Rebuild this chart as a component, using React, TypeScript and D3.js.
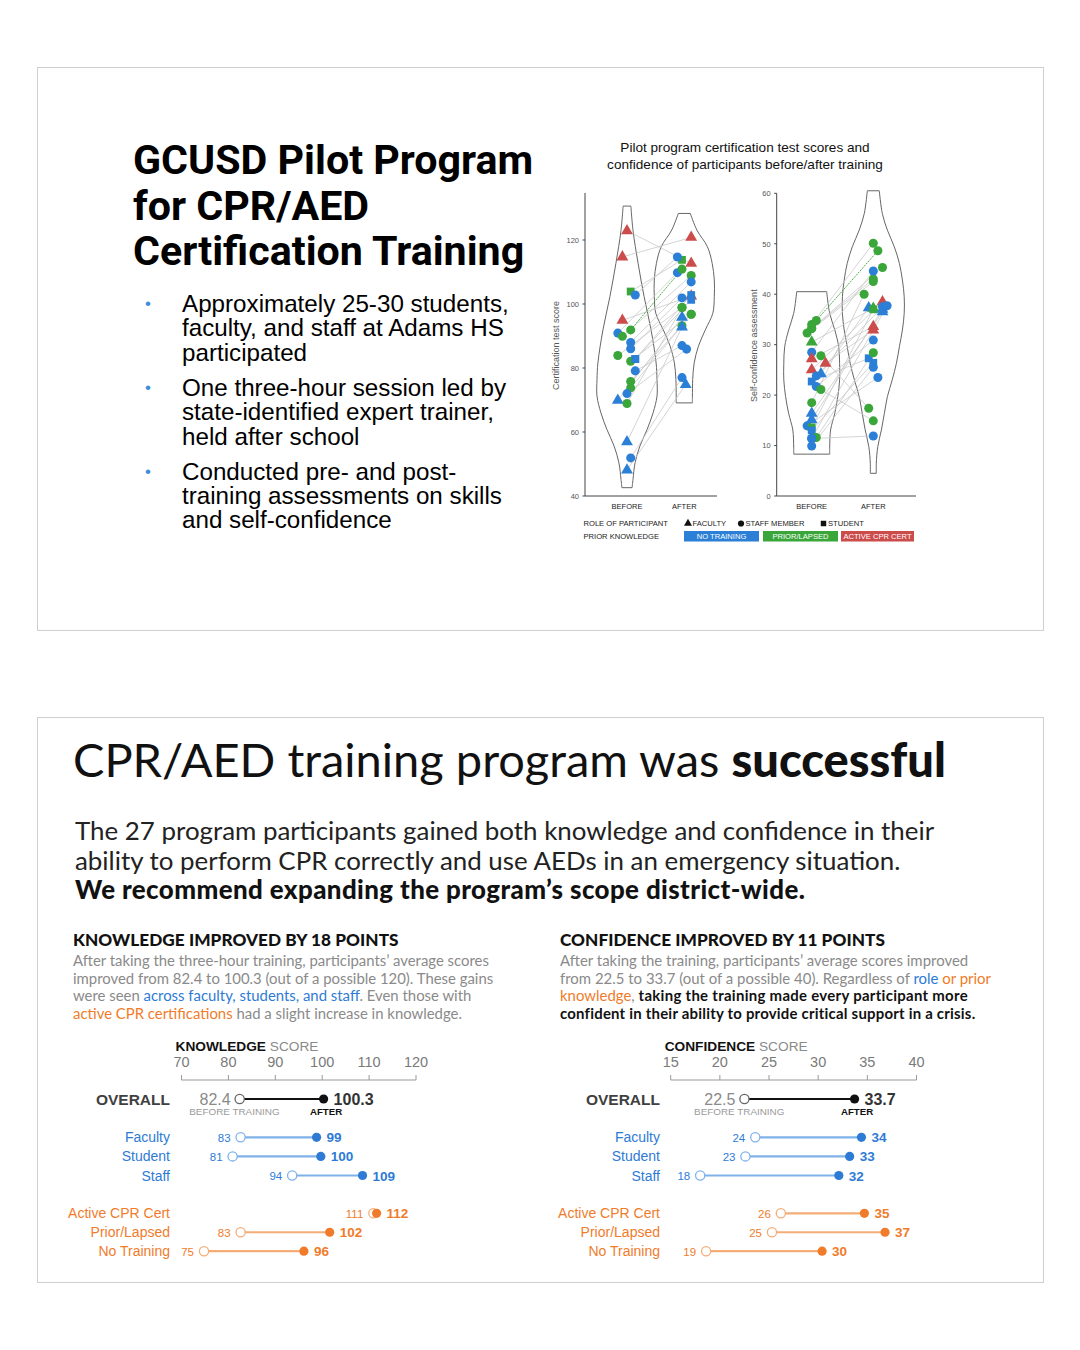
import React from "react";
import * as d3 from "d3";

// ---------------- DATA: top paired violin charts ----------------
const stages = ["BEFORE", "AFTER"];
const knowledgeTicks = [40, 60, 80, 100, 120];
const confidenceTicks = [0, 10, 20, 30, 40, 50, 60];

// [role, prior, before, after]; role F=faculty, S=staff member, T=student; prior N=no training, P=prior/lapsed, A=active CPR cert
const knowledgeParticipants: [string, string, number, number][] = [
  ["F", "A", 122.9, 112.7],
  ["F", "A", 114.7, 120.8],
  ["F", "A", 94.9, 102.5],
  ["T", "P", 103.9, 113.8],
  ["S", "N", 102.8, 114.7],
  ["S", "N", 90.9, 109.8],
  ["S", "P", 91.9, 110.9],
  ["S", "P", 89.9, 108.9],
  ["S", "N", 88, 106.9],
  ["S", "N", 86, 101.9],
  ["S", "P", 83.9, 98.9],
  ["T", "N", 82.8, 102.8],
  ["S", "P", 82.1, 96.8],
  ["S", "N", 79.1, 87],
  ["S", "P", 75.8, 93.2],
  ["S", "P", 73.8, 96.8],
  ["S", "N", 72, 85.9],
  ["F", "N", 69.9, 95.8],
  ["S", "P", 68.9, 98.9],
  ["F", "N", 56.9, 92.8],
  ["S", "N", 51.9, 77],
  ["F", "N", 48.1, 74.8],
  ["T", "N", 82.8, 101.3],
];
// jitter lanes [before, after]
const knowledgeJitter: [number, number][] = [
  [0, 1.5], [-1, 1.5], [-1, 1.5], [0.8, -0.5], [1.8, -1.5], [-2, -1.5], [0.8, -0.5], [-1, 1.5],
  [0.8, 1.5], [0.8, -0.5], [-2, -0.5], [1.8, 1.5], [0.8, 1.5], [1.8, -0.5], [0.8, -0.5], [0.8, 1.5],
  [0, 0.5], [-2, -0.5], [0, -0.5], [0, -0.5], [0.8, -0.5], [0, 0.3], [1.8, 1.5],
];
const knowledgeHighlight = 6;

const confidenceParticipants: [string, string, number, number][] = [
  ["S", "P", 34.8, 48.6],
  ["S", "P", 34, 50.1],
  ["S", "P", 33.2, 45.3],
  ["S", "P", 32.3, 42.5],
  ["S", "P", 33.2, 43],
  ["F", "P", 30.5, 37.2],
  ["S", "N", 28.5, 44.6],
  ["S", "P", 27.8, 17.4],
  ["F", "A", 27.2, 33.6],
  ["F", "A", 26.3, 32.9],
  ["F", "A", 25, 38.5],
  ["F", "N", 24.2, 37.3],
  ["S", "N", 23.8, 37.5],
  ["T", "N", 22.7, 27.3],
  ["S", "N", 21.7, 30.9],
  ["S", "P", 21.1, 14.9],
  ["S", "P", 18.5, 40],
  ["F", "N", 16.4, 36.5],
  ["F", "N", 15.1, 37],
  ["S", "N", 13.9, 23.5],
  ["T", "P", 13.6, 37],
  ["T", "N", 13, 26.4],
  ["S", "P", 11.6, 28.4],
  ["S", "N", 11.4, 11.9],
  ["S", "N", 9.9, 25.5],
  ["S", "N", 11.4, 37.7],
];
const confidenceJitter: [number, number][] = [
  [1, 1], [0, 0], [0, 2], [-1, 0], [0, 0], [0, 0], [0, 0], [2, -1], [0, 0], [3, 0], [0, 2], [2, -1], [1, 2],
  [0, -1], [1, 0], [2, 0], [0, -2], [0, 2], [0, 2], [-1, 1], [0, 0], [0, 0], [1, 0], [0, 0], [0, 0], [0, 3],
];
const confidenceHighlight = 0;

// violin density profiles [value, relative density]
const knowledgeBeforeViolin = [[42.6, 0.17], [45.2, 0.2], [50.4, 0.27], [55.6, 0.43], [60.8, 0.67], [66, 0.87], [71.2, 1], [76.4, 1], [81.6, 0.97], [92, 0.8], [102.3, 0.57], [112.7, 0.37], [123, 0.2], [130.6, 0.13]];
const knowledgeAfterViolin = [[69.1, 0.27], [71.2, 0.27], [76.4, 0.28], [81.6, 0.33], [86.8, 0.47], [91.9, 0.7], [97.1, 0.95], [102.3, 1], [107.5, 1], [112.7, 0.93], [117.9, 0.77], [123.1, 0.42], [128.3, 0.2]];
const confidenceBeforeViolin = [[8.3, 0.6], [9.7, 0.6], [13.1, 0.63], [16.4, 0.77], [19.7, 0.87], [23, 0.93], [26.3, 0.93], [29.6, 0.9], [32.9, 0.77], [36.2, 0.6], [40.5, 0.5]];
const confidenceAfterViolin = [[4.5, 0.1], [6.5, 0.1], [9.8, 0.15], [13.1, 0.27], [16.4, 0.37], [19.7, 0.47], [23, 0.63], [26.3, 0.77], [29.6, 0.87], [32.9, 0.97], [36.2, 1.03], [39.5, 1.03], [42.8, 0.97], [46.1, 0.87], [49.4, 0.7], [52.7, 0.47], [56, 0.3], [60.5, 0.2]];

const legendRoles = [["F", "FACULTY"], ["S", "STAFF MEMBER"], ["T", "STUDENT"]];
const legendPriors = [["N", "NO TRAINING"], ["P", "PRIOR/LAPSED"], ["A", "ACTIVE CPR CERT"]];

// ---------------- DATA: bottom dumbbell charts ----------------
const roleNames = ["Faculty", "Student", "Staff"];
const priorNames = ["Active CPR Cert", "Prior/Lapsed", "No Training"];
const knowledgeAxisTicks = [70, 80, 90, 100, 110, 120];
const confidenceAxisTicks = [15, 20, 25, 30, 35, 40];
const knowledgeOverall = [82.4, 100.3];
const confidenceOverall = [22.5, 33.7];
const knowledgeRoleBefore = [82.6, 80.9, 93.6];
const knowledgeRoleAfter = [98.8, 99.7, 108.6];
const knowledgePriorBefore = [110.9, 82.6, 74.8];
const knowledgePriorAfter = [111.6, 101.6, 96.1];
const confidenceRoleBefore = [23.6, 22.6, 18.0];
const confidenceRoleAfter = [34.4, 33.2, 32.1];
const confidencePriorBefore = [26.2, 25.3, 18.6];
const confidencePriorAfter = [34.7, 36.8, 30.4];

// ---------------- STYLE ----------------
const PRIOR_COLOR: Record<string, string> = { N: "#2b7fd6", P: "#3aa63a", A: "#cc4b4b" };
const ROLE_SYMBOL: Record<string, any> = { F: d3.symbolTriangle, S: d3.symbolCircle, T: d3.symbolSquare };
const BLUE = "#2e7bd6";
const BLUE_LIGHT = "#7fb2ea";
const ORANGE = "#f07c2b";
const ORANGE_LIGHT = "#f5ad78";
const ARIAL = "'Liberation Sans', Arial, sans-serif";
const LATO = "Lato, 'Noto Sans', sans-serif";

function symbolPath(role: string, size = 64) {
  const s = role === "F" ? size * 0.95 : role === "T" ? size * 0.95 : size;
  return d3.symbol().type(ROLE_SYMBOL[role]).size(s)() as string;
}

function PairedChart(props: {
  data: [string, string, number, number][];
  jitter: [number, number][];
  highlight: number;
  y: d3.ScaleLinear<number, number>;
  axisX: number;
  axisTop: number;
  axisRight: number;
  band: [number, number];
  ticks: number[];
  violins: number[][][];
  yLabel: string;
  yLabelX: number;
}) {
  const { data, jitter, highlight, y, axisX, axisTop, axisRight, band, ticks, violins, yLabel, yLabelX } = props;
  const x = d3.scalePoint<string>().domain(stages).range(band);
  const j = d3.scaleLinear().domain([-1, 1]).range([-4.6, 4.6]);
  const w = d3.scaleLinear().domain([0, 1]).range([0, 30]);
  const bottom = y.range()[0];
  const violinPath = (cx: number, prof: number[][]) =>
    d3
      .area<number[]>()
      .y((d) => y(d[0]))
      .x0((d) => cx - w(d[1]))
      .x1((d) => cx + w(d[1]))
      .curve(d3.curveCatmullRom)(prof) as string;
  const bx = (i: number) => (x("BEFORE") as number) + j(jitter[i][0]);
  const ax = (i: number) => (x("AFTER") as number) + j(jitter[i][1]);
  return (
    <g>
      {stages.map((s, i) => (
        <path key={s} d={violinPath(x(s) as number, violins[i])} fill="none" stroke="#666" strokeWidth={1} />
      ))}
      {data.map((d, i) =>
        i === highlight ? null : (
          <line key={"l" + i} x1={bx(i)} y1={y(d[2])} x2={ax(i)} y2={y(d[3])} stroke="#c9c9c9" strokeWidth={0.8} />
        )
      )}
      <line x1={bx(highlight)} y1={y(data[highlight][2])} x2={ax(highlight)} y2={y(data[highlight][3])} stroke={PRIOR_COLOR.P} strokeWidth={0.9} strokeDasharray="2,1" />
      {data.map((d, i) => (
        <path key={"b" + i} d={symbolPath(d[0])} transform={`translate(${bx(i)},${y(d[2])})`} fill={PRIOR_COLOR[d[1]]} />
      ))}
      {data.map((d, i) => (
        <path key={"a" + i} d={symbolPath(d[0])} transform={`translate(${ax(i)},${y(d[3])})`} fill={PRIOR_COLOR[d[1]]} />
      ))}
      <line x1={axisX} y1={axisTop} x2={axisX} y2={bottom} stroke="#444" strokeWidth={1} />
      <line x1={axisX} y1={bottom} x2={axisRight} y2={bottom} stroke="#444" strokeWidth={1} />
      {ticks.map((t) => (
        <g key={t}>
          <line x1={axisX - 2.5} x2={axisX} y1={y(t)} y2={y(t)} stroke="#444" />
          <text x={axisX - 6} y={y(t) + 2.8} fontSize={7.5} textAnchor="end" fill="#555" fontFamily={ARIAL}>
            {t}
          </text>
        </g>
      ))}
      {stages.map((s) => (
        <text key={s} x={x(s)} y={bottom + 12.5} fontSize={7.5} textAnchor="middle" fill="#222" fontFamily={ARIAL}>
          {s}
        </text>
      ))}
      <text transform={`translate(${yLabelX},${(axisTop + bottom) / 2 + 1}) rotate(-90)`} fontSize={9} textAnchor="middle" fill="#555" fontFamily={ARIAL}>
        {yLabel}
      </text>
    </g>
  );
}

function DotPlot(props: {
  scale: d3.ScaleLinear<number, number>;
  ticks: number[];
  titleBold: string;
  overall: number[];
  roleBefore: number[];
  roleAfter: number[];
  priorBefore: number[];
  priorAfter: number[];
  labelRight: number;
}) {
  const { scale: x, ticks, titleBold, overall, roleBefore, roleAfter, priorBefore, priorAfter, labelRight } = props;
  const roleY = d3.scalePoint<string>().domain(roleNames).range([1137.3, 1175.5]);
  const priorY = d3.scalePoint<string>().domain(priorNames).range([1213.3, 1251.2]);
  const fmt0 = d3.format(".0f");
  const fmt1 = d3.format(".1f");
  const axisY = 1080;
  const oy = 1099;
  const row = (name: string, yy: number, b: number, a: number, col: string, light: string) => (
    <g key={name}>
      <text x={labelRight} y={yy + 5} fontSize={14} textAnchor="end" fill={col} fontFamily={ARIAL}>
        {name}
      </text>
      <line x1={x(b)} x2={x(a)} y1={yy} y2={yy} stroke={light} strokeWidth={2.2} />
      <circle cx={x(b)} cy={yy} r={4.6} fill="#fff" stroke={light} strokeWidth={1.3} />
      <circle cx={x(a)} cy={yy} r={4.6} fill={col} />
      <text x={x(b) - 10} y={yy + 4.3} fontSize={11.5} textAnchor="end" fill={col} fontFamily={ARIAL}>
        {fmt0(b)}
      </text>
      <text x={x(a) + 10} y={yy + 5} fontSize={13.5} fontWeight="bold" fill={col} fontFamily={ARIAL}>
        {fmt0(a)}
      </text>
    </g>
  );
  const [x0, x1] = x.range();
  return (
    <g>
      <text x={x0 - 6} y={1051} fontSize={13.7} fontFamily={ARIAL}>
        <tspan fontWeight="bold" fill="#111">{titleBold}</tspan>
        <tspan fill="#8a8a8a"> SCORE</tspan>
      </text>
      <line x1={x0} x2={x1} y1={axisY} y2={axisY} stroke="#999" strokeWidth={1} />
      {ticks.map((t) => (
        <g key={t}>
          <line x1={x(t)} x2={x(t)} y1={axisY - 5} y2={axisY} stroke="#999" />
          <text x={x(t)} y={1067} fontSize={14.5} textAnchor="middle" fill="#7a7a7a" fontFamily={ARIAL}>
            {t}
          </text>
        </g>
      ))}
      <text x={labelRight} y={oy + 6} fontSize={15.5} fontWeight="bold" textAnchor="end" fill="#404040" fontFamily={ARIAL}>
        OVERALL
      </text>
      <line x1={x(overall[0])} x2={x(overall[1])} y1={oy} y2={oy} stroke="#111" strokeWidth={2} />
      <circle cx={x(overall[0])} cy={oy} r={4.6} fill="#fff" stroke="#666" strokeWidth={1.3} />
      <circle cx={x(overall[1])} cy={oy} r={4.6} fill="#111" />
      <text x={x(overall[0]) - 9} y={oy + 6} fontSize={16} textAnchor="end" fill="#8a8a8a" fontFamily={ARIAL}>
        {fmt1(overall[0])}
      </text>
      <text x={x(overall[1]) + 10} y={oy + 6} fontSize={16} fontWeight="bold" fill="#333" fontFamily={ARIAL}>
        {fmt1(overall[1])}
      </text>
      <text x={x(overall[0]) + 40} y={1114.5} fontSize={9.9} textAnchor="end" fill="#9a9a9a" fontFamily={ARIAL}>
        BEFORE TRAINING
      </text>
      <text x={x(overall[1]) + 2.5} y={1114.5} fontSize={9.7} fontWeight="bold" textAnchor="middle" fill="#111" fontFamily={ARIAL}>
        AFTER
      </text>
      {roleNames.map((n, i) => row(n, roleY(n) as number, roleBefore[i], roleAfter[i], BLUE, BLUE_LIGHT))}
      {priorNames.map((n, i) => row(n, priorY(n) as number, priorBefore[i], priorAfter[i], ORANGE, ORANGE_LIGHT))}
    </g>
  );
}

export default function App() {
  const yK = d3.scaleLinear().domain([40, 120]).range([496, 240]);
  const yC = d3.scaleLinear().domain([0, 60]).range([496, 193.3]);
  const kx = d3.scaleLinear().domain([70, 120]).range([181.5, 416]);
  const cx = d3.scaleLinear().domain([15, 40]).range([670.7, 916.5]);

  const bullets = [
    ["Approximately 25-30 students,", "faculty, and staff at Adams HS", "participated"],
    ["One three-hour session led by", "state-identified expert trainer,", "held after school"],
    ["Conducted pre- and post-", "training assessments on skills", "and self-confidence"],
  ];
  const bulletTop = [312, 396, 479.5];
  const bodyGray = "#8a8a8a";

  return (
    <div style={{ position: "absolute", left: 0, top: 0 }}>
      <svg width={1080} height={1350} style={{ display: "block", background: "#fff" }}>
        <rect x={0} y={0} width={1080} height={1350} fill="#fff" />
        {/* ---------- top panel ---------- */}
        <rect x={37.5} y={67.5} width={1006} height={563} fill="#fff" stroke="#cfcfcf" strokeWidth={1} />
        {["GCUSD Pilot Program", "for CPR/AED", "Certification Training"].map((t, i) => (
          <text key={t} x={133} y={174 + i * 45.5} fontSize={41.2} fontWeight="bold" fill="#000" fontFamily="Roboto, sans-serif">
            {t}
          </text>
        ))}
        {bullets.map((lines, bi) => (
          <g key={bi}>
            <text x={145} y={bulletTop[bi] - 3} fontSize={17} fill="#3d8fd9" fontFamily={ARIAL}>
              •
            </text>
            {lines.map((l, li) => (
              <text key={li} x={182} y={bulletTop[bi] + li * 24.3} fontSize={24.2} fill="#000" fontFamily={ARIAL}>
                {l}
              </text>
            ))}
          </g>
        ))}
        <text x={745} y={152} fontSize={13.6} textAnchor="middle" fill="#111" fontFamily={ARIAL}>
          Pilot program certification test scores and
        </text>
        <text x={745} y={169} fontSize={13.6} textAnchor="middle" fill="#111" fontFamily={ARIAL}>
          confidence of participants before/after training
        </text>
        <PairedChart
          data={knowledgeParticipants}
          jitter={knowledgeJitter}
          highlight={knowledgeHighlight}
          y={yK}
          axisX={585}
          axisTop={yK(134.7)}
          axisRight={717}
          band={[627, 684.3]}
          ticks={knowledgeTicks}
          violins={[knowledgeBeforeViolin, knowledgeAfterViolin]}
          yLabel="Certification test score"
          yLabelX={559}
        />
        <PairedChart
          data={confidenceParticipants}
          jitter={confidenceJitter}
          highlight={confidenceHighlight}
          y={yC}
          axisX={776.7}
          axisTop={yC(60)}
          axisRight={916}
          band={[811.7, 873.3]}
          ticks={confidenceTicks}
          violins={[confidenceBeforeViolin, confidenceAfterViolin]}
          yLabel="Self-confidence assessment"
          yLabelX={757}
        />
        {/* legend */}
        <text x={583.5} y={526} fontSize={7.6} fill="#222" fontFamily={ARIAL}>
          ROLE OF PARTICIPANT
        </text>
        {legendRoles.map(([r, label], i) => {
          const lx = [688, 741, 823.5][i];
          return (
            <g key={r}>
              <path d={d3.symbol().type(ROLE_SYMBOL[r]).size(r === "F" ? 28 : 30)() as string} transform={`translate(${lx},${523.5})`} fill="#111" />
              <text x={lx + 4.5} y={526} fontSize={7.6} fill="#222" fontFamily={ARIAL}>
                {label}
              </text>
            </g>
          );
        })}
        <text x={583.5} y={539} fontSize={7.6} fill="#222" fontFamily={ARIAL}>
          PRIOR KNOWLEDGE
        </text>
        {legendPriors.map(([p, label], i) => {
          const bx = [684, 763, 841][i];
          const bw = [75, 75, 73][i];
          return (
            <g key={p}>
              <rect x={bx} y={531} width={bw} height={10.5} fill={PRIOR_COLOR[p]} />
              <text x={bx + bw / 2} y={539.2} fontSize={7.6} textAnchor="middle" fill="#fff" fontFamily={ARIAL}>
                {label}
              </text>
            </g>
          );
        })}

        {/* ---------- bottom panel ---------- */}
        <rect x={37.5} y={717.5} width={1006} height={565} fill="#fff" stroke="#cfcfcf" strokeWidth={1} />
        <text x={73} y={777} fontSize={47} fill="#111" fontFamily={LATO}>
          <tspan>CPR/AED training program was </tspan>
          <tspan fontWeight="900">successful</tspan>
        </text>
        <text x={75} y={840} fontSize={25.9} fill="#222" fontFamily={LATO}>
          The 27 program participants gained both knowledge and confidence in their
        </text>
        <text x={75} y={870} fontSize={25.9} fill="#222" fontFamily={LATO}>
          ability to perform CPR correctly and use AEDs in an emergency situation.
        </text>
        <text x={75} y={899} fontSize={25.9} fontWeight="900" fill="#111" fontFamily={LATO} letterSpacing={0.4}>
          We recommend expanding the program’s scope district-wide.
        </text>

        <text x={73} y={946} fontSize={17.2} fontWeight="900" fill="#111" fontFamily={LATO} letterSpacing={0.05}>
          KNOWLEDGE IMPROVED BY 18 POINTS
        </text>
        <g fontSize={14.9} fontFamily={LATO} fill={bodyGray}>
          <text x={73} y={966}>After taking the three-hour training, participants’ average scores</text>
          <text x={73} y={984}>improved from 82.4 to 100.3 (out of a possible 120). These gains</text>
          <text x={73} y={1001}>
            were seen <tspan fill={BLUE}>across faculty, students, and staff</tspan>. Even those with
          </text>
          <text x={73} y={1018.5}>
            <tspan fill={ORANGE}>active CPR certifications</tspan> had a slight increase in knowledge.
          </text>
        </g>

        <text x={560} y={946} fontSize={17.2} fontWeight="900" fill="#111" fontFamily={LATO} letterSpacing={0.05}>
          CONFIDENCE IMPROVED BY 11 POINTS
        </text>
        <g fontSize={14.95} fontFamily={LATO} fill={bodyGray}>
          <text x={560} y={966}>After taking the training, participants’ average scores improved</text>
          <text x={560} y={984}>
            from 22.5 to 33.7 (out of a possible 40). Regardless of <tspan fill={BLUE}>role</tspan>{" "}
            <tspan fill={ORANGE}>or prior</tspan>
          </text>
          <text x={560} y={1001}>
            <tspan fill={ORANGE}>knowledge</tspan>,{" "}
            <tspan fill="#111" fontWeight="bold" letterSpacing={0.3}>taking the training made every participant more</tspan>
          </text>
          <text x={560} y={1018.5} fill="#111" fontWeight="bold" letterSpacing={0.22}>
            confident in their ability to provide critical support in a crisis.
          </text>
        </g>

        <DotPlot
          scale={kx}
          ticks={knowledgeAxisTicks}
          titleBold="KNOWLEDGE"
          overall={knowledgeOverall}
          roleBefore={knowledgeRoleBefore}
          roleAfter={knowledgeRoleAfter}
          priorBefore={knowledgePriorBefore}
          priorAfter={knowledgePriorAfter}
          labelRight={170}
        />
        <DotPlot
          scale={cx}
          ticks={confidenceAxisTicks}
          titleBold="CONFIDENCE"
          overall={confidenceOverall}
          roleBefore={confidenceRoleBefore}
          roleAfter={confidenceRoleAfter}
          priorBefore={confidencePriorBefore}
          priorAfter={confidencePriorAfter}
          labelRight={660}
        />
      </svg>
    </div>
  );
}
